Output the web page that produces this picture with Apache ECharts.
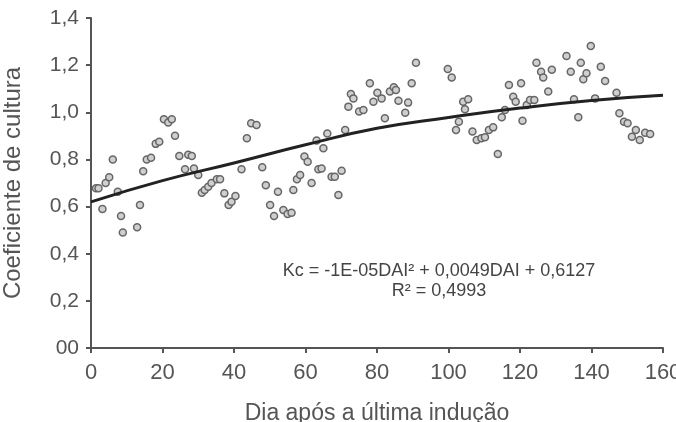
<!DOCTYPE html>
<html>
<head>
<meta charset="utf-8">
<script src="https://cdn.jsdelivr.net/npm/echarts@6/dist/echarts.min.js"></script>
<style>
  html, body { margin: 0; padding: 0; background: #fff; }
  #chart { width: 676px; height: 422px; }
</style>
</head>
<body>
<div id="chart"></div>
<script>
// observed Kc values (day, coefficient)
var pointDays = [1.4, 2.1, 3.2, 4.1, 5.1, 6.1, 7.5, 8.4, 8.9, 12.9, 13.7, 14.6, 15.6, 16.8, 18.1, 19.1,
    20.4, 21.6, 22.6, 23.5, 24.7, 26.3, 27.2, 28.2, 28.8, 30.0, 31.0, 31.8, 32.8, 33.7, 35.2, 36.1,
    37.3, 38.5, 39.3, 40.4, 42.1, 43.6, 44.8, 46.3, 47.9, 48.9, 50.1, 51.2, 52.3, 53.8, 55.0, 56.1, 56.6,
    57.6, 58.5, 59.7, 60.6, 61.7, 63.1, 63.6, 64.5, 65.0, 66.1, 67.3, 68.2, 69.2, 70.1, 71.1, 72.0, 72.7,
    73.4, 75.0, 76.2, 78.0, 79.0, 80.1, 81.3, 82.2, 83.6, 84.7, 85.3, 86.0, 87.9, 88.7, 89.7, 90.9,
    99.8, 100.9, 102.1, 102.9, 104.1, 104.6, 105.5, 106.7, 107.9, 109.2, 110.2, 111.3, 112.5, 113.8,
    114.9, 115.8, 116.9, 118.1, 118.8, 120.3, 120.7, 121.9, 122.8, 124.0, 124.6, 125.9, 126.5, 127.9,
    128.9, 133.0, 134.2, 135.1, 136.3, 137.0, 137.7, 138.6, 139.8, 141.0, 142.6, 143.8, 147.0, 147.8,
    149.1, 150.1, 151.3, 152.4, 153.5, 155.0, 156.4];
var pointKc = [0.678, 0.678, 0.59, 0.70, 0.724, 0.80, 0.663, 0.56, 0.49, 0.512, 0.607, 0.75, 0.80, 0.807, 0.866, 0.875,
    0.97, 0.957, 0.97, 0.90, 0.815, 0.758, 0.82, 0.815, 0.762, 0.734, 0.659, 0.67, 0.684, 0.70, 0.716, 0.716,
    0.656, 0.607, 0.62, 0.645, 0.758, 0.89, 0.953, 0.946, 0.767, 0.69, 0.607, 0.56, 0.663, 0.585, 0.568, 0.574, 0.67,
    0.716, 0.734, 0.812, 0.79, 0.70, 0.88, 0.758, 0.762, 0.847, 0.91, 0.727, 0.727, 0.649, 0.752, 0.925, 1.024, 1.078,
    1.059, 1.003, 1.01, 1.123, 1.045, 1.083, 1.059, 0.975, 1.088, 1.106, 1.095, 1.049, 0.998, 1.041, 1.123, 1.21,
    1.184, 1.148, 0.925, 0.96, 1.045, 1.013, 1.055, 0.918, 0.882, 0.89, 0.894, 0.925, 0.936, 0.823,
    0.979, 1.01, 1.116, 1.066, 1.045, 1.123, 0.964, 1.031, 1.052, 1.052, 1.21, 1.172, 1.148, 1.088,
    1.18, 1.239, 1.172, 1.055, 0.979, 1.21, 1.14, 1.166, 1.281, 1.059, 1.193, 1.133, 1.083, 0.996,
    0.96, 0.953, 0.896, 0.925, 0.882, 0.913, 0.908];

// fitted curve as drawn
var fitDays = [0, 20, 40, 60, 80, 100, 120, 140, 160];
var fitKc = [0.62, 0.71, 0.785, 0.862, 0.932, 0.978, 1.018, 1.05, 1.072];

var equationText = 'Kc = -1E-05DAI² + 0,0049DAI + 0,6127';
var r2Text = 'R² = 0,4993';

var chart = echarts.init(document.getElementById('chart'));

var points = pointDays.map(function (d, i) { return [d, pointKc[i]]; });
var fit = fitDays.map(function (d, i) { return [d, fitKc[i]]; });

var font = 'Liberation Sans, Arial, sans-serif';
var textGray = '#555';

var option = {
    animation: false,
    backgroundColor: '#fff',
    grid: { left: 91, right: 13, top: 18, bottom: 74, outerBoundsMode: 'none' },
    xAxis: {
        type: 'value',
        min: 0,
        max: 160,
        interval: 20,
        name: 'Dia após a última indução',
        nameLocation: 'middle',
        nameGap: 54,
        nameTextStyle: { fontFamily: font, fontSize: 23, color: textGray },
        axisLine: { lineStyle: { color: '#555', width: 2 } },
        axisTick: { length: 5, lineStyle: { color: '#555', width: 2 } },
        axisLabel: { fontFamily: font, fontSize: 22, color: textGray, margin: 14 },
        splitLine: { show: false }
    },
    yAxis: {
        type: 'value',
        min: 0,
        max: 1.4,
        interval: 0.2,
        name: 'Coeficiente de cultura',
        nameLocation: 'middle',
        nameGap: 66,
        nameTextStyle: { fontFamily: font, fontSize: 24, color: textGray },
        axisLine: { show: true, lineStyle: { color: '#555', width: 2 } },
        axisTick: { show: true, length: 5, lineStyle: { color: '#555', width: 2 } },
        axisLabel: {
            fontFamily: font, fontSize: 21, color: textGray, margin: 12,
            formatter: function (v) {
                if (v === 0) return '00';
                return v.toFixed(1).replace('.', ',');
            }
        },
        splitLine: { show: false }
    },
    graphic: [{
        type: 'text',
        x: 439,
        y: 271,
        style: { text: equationText, font: '18px ' + font, fill: '#444', align: 'center', verticalAlign: 'middle' }
    }, {
        type: 'text',
        x: 439,
        y: 291,
        style: { text: r2Text, font: '18px ' + font, fill: '#444', align: 'center', verticalAlign: 'middle' }
    }],
    series: [{
        type: 'scatter',
        data: points,
        symbol: 'circle',
        symbolSize: 7,
        itemStyle: { color: '#cfcfcf', borderColor: '#666', borderWidth: 1.5, opacity: 1 },
        z: 2
    }, {
        type: 'line',
        data: fit,
        smooth: true,
        showSymbol: false,
        lineStyle: { color: '#222', width: 3 },
        z: 3
    }]
};

chart.setOption(option);
</script>
</body>
</html>
